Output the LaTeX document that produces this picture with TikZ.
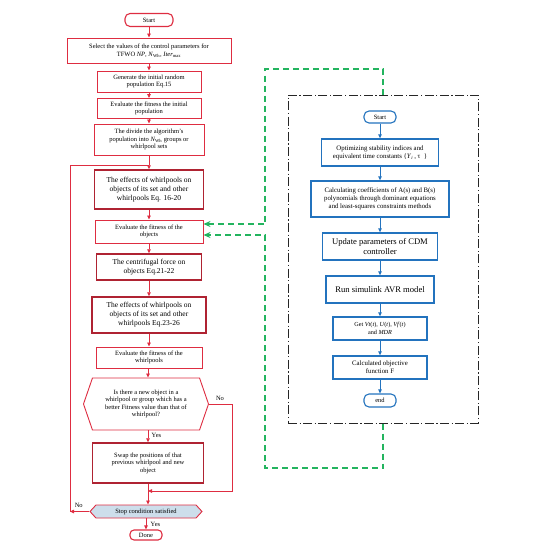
\documentclass[tikz,border=0pt]{standalone}
\usepackage{fontspec}
\setmainfont{Liberation Serif}
\usetikzlibrary{positioning,arrows.meta,shapes.symbols}

\definecolor{flowred}{RGB}{222,45,65}
\definecolor{darkred}{RGB}{175,35,50}
\definecolor{flowblue}{RGB}{35,115,190}
\definecolor{loopgreen}{RGB}{35,180,95}
\definecolor{stopfill}{RGB}{205,222,235}

\begin{document}
\begin{tikzpicture}[
  x=1pt,y=-1pt,
  >={Triangle[length=4pt,width=3.5pt]},
  rbox/.style={rectangle,draw=flowred,line width=0.9pt,fill=white,align=center,
               inner sep=1pt,font=\fontsize{6.5}{7.6}\selectfont},
  ebox/.style={rbox,draw=darkred,line width=1.5pt,font=\fontsize{7.5}{9}\selectfont},
  term/.style={rectangle,rounded corners=5pt,draw=flowred,line width=1.1pt,fill=white,
               inner sep=1pt,font=\fontsize{6.5}{7}\selectfont},
  hexa/.style={signal,signal to=west and east,draw=flowred,line width=0.9pt,fill=white,
               align=center,inner sep=1pt,font=\fontsize{6.5}{7.6}\selectfont},
  bbox/.style={rectangle,draw=flowblue,line width=1.3pt,fill=white,align=center,
               inner sep=1pt,font=\fontsize{6.8}{8}\selectfont},
  bterm/.style={term,draw=flowblue},
  lab/.style={text=black,font=\fontsize{6.5}{7}\selectfont},
  arr/.style={->,line width=0.8pt,flowred},
  barr/.style={->,line width=0.8pt,flowblue},
  gline/.style={line width=1.3pt,loopgreen,dash pattern=on 6pt off 4pt},
  garr/.style={gline,-{Stealth[length=7pt,width=6pt]}},
  frame/.style={rectangle,draw=black!85,line width=1pt,
                dash pattern=on 9pt off 2.5pt on 1.2pt off 2.5pt}
]
\useasboundingbox (0,0) rectangle (540,551);

% ===================== TFWO flowchart (left) =====================
\node[term,minimum width=48,minimum height=13] (start) at (149,20) {Start};
\node[rbox,minimum width=164,minimum height=25] (sel) at (149,50.5)
  {Select the values of the control parameters for\\TFWO \textit{NP}, \textit{N}\textsubscript{Wh}, \textit{Iter}\textsubscript{max}};
\node[rbox,minimum width=104,minimum height=21] (gen) at (149,81.5)
  {Generate the initial random\\population Eq.15};
\node[rbox,minimum width=104,minimum height=20] (evinit) at (149,108.5)
  {Evaluate the fitness the initial\\population};
\node[rbox,minimum width=110,minimum height=31] (divide) at (149,139.5)
  {The divide the algorithm's\\population into \textit{N}\textsubscript{Wh} groups or\\whirlpool sets};
\node[ebox,minimum width=109,minimum height=39] (effa) at (149,189.5)
  {The effects of whirlpools on\\objects of its set and other\\whirlpools Eq. 16-20};
\node[rbox,minimum width=108,minimum height=23] (evobj) at (149,231.5)
  {Evaluate the fitness of the\\objects};
\node[ebox,minimum width=105,minimum height=26] (centr) at (149,267)
  {The centrifugal force on\\objects Eq.21-22};
\node[ebox,minimum width=114,minimum height=36] (effb) at (149,315)
  {The effects of whirlpools on\\objects of its set and other\\whirlpools Eq.23-26};
\node[rbox,minimum width=106,minimum height=21] (evwh) at (149,357.5)
  {Evaluate the fitness of the\\whirlpools};
\node[hexa,minimum width=125,minimum height=52,signal pointer angle=142] (dec) at (146,404)
  {Is there a new object in a\\whirlpool or group which has a\\better Fitness value than that of\\whirlpool?};
\node[ebox,font=\fontsize{6.5}{7.6}\selectfont,minimum width=111,minimum height=40] (swap) at (148,463)
  {Swap the positions of that\\previous whirlpool and new\\object};
\node[hexa,fill=stopfill,minimum width=112,minimum height=13,signal pointer angle=95] (stop) at (146,511.5)
  {Stop condition satisfied};
\node[term,minimum width=32,minimum height=10,rounded corners=4pt] (done) at (146,535) {Done};

% ---- arrows (left) ----
\foreach \a/\b in {start/sel,sel/gen,gen/evinit,evinit/divide,divide/effa,effa/evobj,
                   evobj/centr,centr/effb,effb/evwh}
  \draw[arr] (\a) -- (\b);
\draw[arr] (evwh.south -| swap.north) -- (dec.north -| swap.north);
\draw[arr] (dec.south -| swap.north) -- node[lab,right=0pt,pos=0.45]{Yes} (swap.north);
\draw[arr] (swap.south) -- (stop.north -| swap.south);
\draw[arr] (stop.south) -- node[lab,right=1pt]{Yes} (done.north -| stop.south);
% "No" branch of the decision
\coordinate (noR) at (232,491);
\coordinate (merge) at (148,491);
\draw[arr] (dec.east) -| (noR) -- (merge);
\node[lab] (no1) at (220,398) {No};
% loop back when stop condition is not met
\coordinate (loopL) at (70,511.5);
\coordinate (loopT) at (149,165);
\draw[arr] (stop.west) -- node[lab,above=0pt,pos=0.55]{No} (loopL);
\draw[line width=0.8pt,flowred] (loopL) |- (loopT);

% ===================== objective function (right) =====================
\node[frame,minimum width=190,minimum height=328] (frm) at (383,259) {};
\node[bterm,minimum width=32,minimum height=12] (bstart) at (380,117) {Start};
\node[bbox,minimum width=117,minimum height=27] (opt) at (380,152.5)
  {Optimizing stability indices and\\equivalent time constants \{\textit{Y}\textsubscript{\textit{i}}\,,\ τ\ \ \}};
\node[bbox,minimum width=138,minimum height=36] (coef) at (380,199)
  {Calculating coefficients of A(s) and B(s)\\polynomials through dominant equations\\and least-squares constraints methods};
\node[bbox,font=\fontsize{8.6}{10}\selectfont,minimum width=115,minimum height=27] (upd) at (380,246.5)
  {Update parameters of CDM\\controller};
\node[bbox,font=\fontsize{8.6}{10}\selectfont,minimum width=108,minimum height=27] (run) at (380,289.5)
  {Run simulink AVR model};
\node[bbox,font=\fontsize{6.2}{7.6}\selectfont,minimum width=94,minimum height=23] (get) at (380,328.5)
  {Get \textit{Vt}(\textit{t}), \textit{U}(\textit{t}), \textit{Vf}(\textit{t})\\and \textit{MDR}};
\node[bbox,minimum width=94,minimum height=23] (obj) at (380,367.5)
  {Calculated objective\\function F};
\node[bterm,minimum width=32,minimum height=13] (bend) at (380,400.5) {end};

\foreach \a/\b in {bstart/opt,opt/coef,coef/upd,upd/run,run/get,get/obj,obj/bend}
  \draw[barr] (\a) -- (\b);

% ---- green feedback into the fitness evaluation ----
\coordinate (gnw) at (265,69);
\coordinate (gsw) at (265,468);
\draw[garr] (frm.north) |- (gnw) |- ([yshift=7.5pt]evobj.east);
\draw[garr] (frm.south) |- (gsw) |- ([yshift=-3.5pt]evobj.east);

\end{tikzpicture}
\end{document}
